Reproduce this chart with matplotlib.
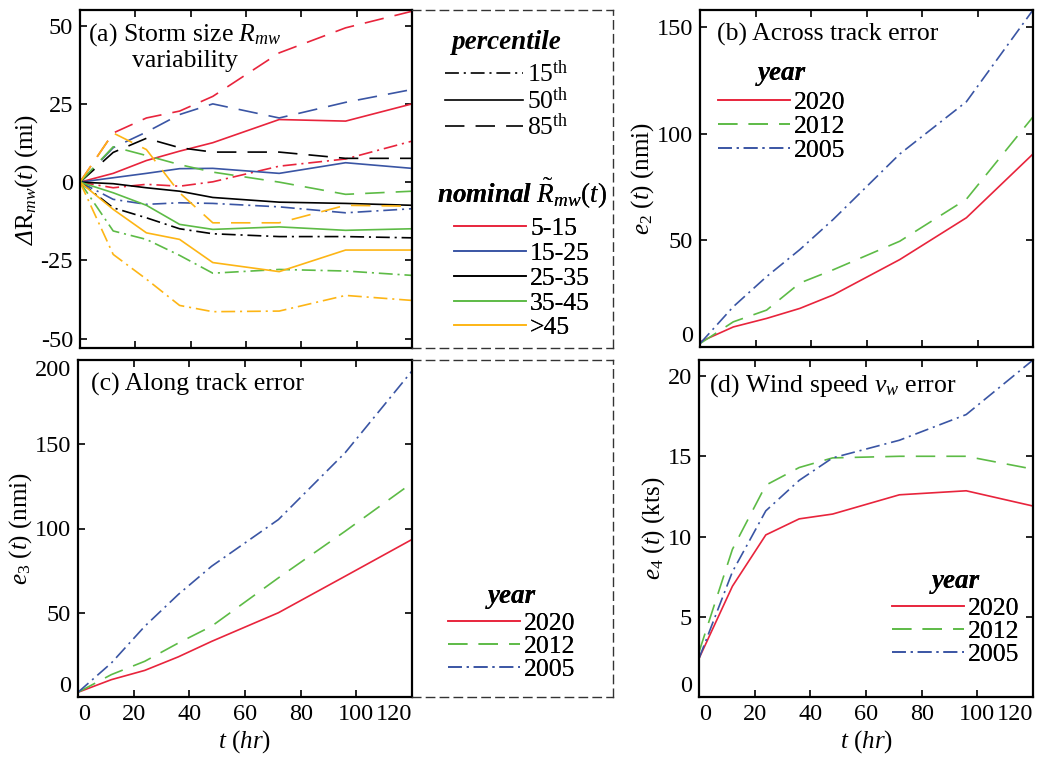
import matplotlib
matplotlib.use("Agg")
import matplotlib.pyplot as plt
from matplotlib.lines import Line2D

plt.rcParams["font.family"] = ["Liberation Serif", "DejaVu Serif"]
plt.rcParams["mathtext.fontset"] = "custom"
plt.rcParams["mathtext.rm"] = "Liberation Serif"
plt.rcParams["mathtext.it"] = "Liberation Serif:italic"
plt.rcParams["mathtext.sf"] = "Liberation Serif:italic"
plt.rcParams["mathtext.bf"] = "Liberation Serif:bold:italic"
plt.rcParams["axes.unicode_minus"] = False
plt.rcParams["lines.scale_dashes"] = False

# ---- data ----
t = [0, 12, 24, 36, 48, 72, 96, 120]

bins = ["5-15", "15-25", "25-35", "35-45", ">45"]
bin_colors = ["#E8243C", "#3A55A4", "#000000", "#5DBB46", "#FDB515"]

p15 = [
    [0, -1.8, -0.7, -1.3, 0.1, 5.1, 7.4, 13.1],
    [0, -5.5, -7.1, -6.6, -6.8, -7.9, -9.8, -8.5],
    [0, -8.2, -11.4, -14.9, -16.5, -17.4, -17.4, -17.8],
    [0, -15.6, -18.3, -23.4, -29.1, -27.9, -28.4, -29.8],
    [0, -23.1, -31.0, -39.4, -41.4, -41.2, -36.2, -37.8],
]
p50 = [
    [0, 2.8, 6.9, 9.9, 12.6, 20.0, 19.5, 25.0],
    [0, 1.4, 2.8, 4.3, 4.4, 2.8, 6.2, 4.4],
    [0, -0.5, -1.8, -2.9, -4.9, -6.4, -6.8, -7.4],
    [0, -3.4, -7.4, -13.5, -15.1, -14.3, -15.4, -14.9],
    [0, -8.7, -16.2, -18.3, -25.7, -28.6, -21.7, -21.7],
]
p85 = [
    [0, 15.7, 20.5, 22.7, 27.4, 41.3, 49.3, 54.6],
    [0, 11.0, 16.0, 21.6, 25.0, 20.5, 25.5, 29.6],
    [0, 9.5, 14.0, 11.0, 9.6, 9.6, 7.6, 7.6],
    [0, 11.3, 8.5, 5.6, 3.2, 0.0, -3.9, -2.9],
    [0, 15.7, 10.4, -3.4, -13.0, -13.0, -7.4, -7.7],
]

years = ["2020", "2012", "2005"]
year_colors = ["#E8243C", "#5DBB46", "#3A55A4"]

e2 = [
    [2.4, 9.4, 13.4, 18.1, 24.4, 41.0, 60.6, 90.5],
    [1.6, 11.8, 17.3, 30.0, 36.2, 49.6, 69.3, 107.9],
    [1.6, 18.9, 33.0, 45.7, 59.8, 90.5, 115.0, 158.0],
]
e3 = [
    [2.8, 10.3, 15.8, 23.8, 33.0, 50.0, 71.7, 93.5],
    [2.8, 13.3, 21.2, 32.0, 42.0, 70.7, 98.4, 127.0],
    [2.8, 20.2, 42.0, 60.8, 77.6, 105.3, 145.0, 193.5],
]
e4 = [
    [2.4, 6.9, 10.1, 11.1, 11.4, 12.6, 12.85, 11.9],
    [2.8, 9.2, 13.2, 14.3, 14.9, 15.0, 15.0, 14.2],
    [2.4, 7.8, 11.6, 13.5, 14.9, 16.0, 17.6, 21.0],
]

# ---- styles ----
SOLID = "-"
DASHED = (0, (14, 8))
DASHDOT = (0, (10, 3.5, 1.5, 3.5))
year_styles = [SOLID, DASHED, DASHDOT]
LW = 1.2
TICK_FS = 17.5
LABEL_FS = 18
TITLE_FS = 18.5
LEG_FS = 18.5
LEG_TITLE_FS = 19.5

W, H = 1039, 757
fig = plt.figure(figsize=(W / 100, H / 100), dpi=100)


def rect(x0, y0, x1, y1):
    """pixel box (top-left origin) -> figure fraction"""
    return [x0 / W, 1 - y1 / H, (x1 - x0) / W, (y1 - y0) / H]


def fig_xy(x, y):
    return (x / W, 1 - y / H)


def style(ax):
    for s in ax.spines.values():
        s.set_linewidth(1.6)
    ax.tick_params(direction="in", top=True, right=True, length=5,
                   width=1.2, labelsize=TICK_FS, pad=5)
    ax.set_xlim(0, 120)
    ax.set_xticks(range(0, 121, 20))


def dashed_box(ax):
    ax.set_xticks([])
    ax.set_yticks([])
    ax.patch.set_alpha(0)
    for s in ax.spines.values():
        s.set_linestyle((0, (6, 4)))
        s.set_linewidth(1.0)
        s.set_color("#333333")
    ax.spines["left"].set_visible(False)


def make_legend(ax, handles, labels, title, x, y, hlen=2.8, lspace=0.0, title_gap=2.5):
    leg = ax.legend(handles, labels, title=title, loc="upper left",
                    bbox_to_anchor=fig_xy(x, y), bbox_transform=fig.transFigure,
                    frameon=False, fontsize=LEG_FS, title_fontsize=LEG_TITLE_FS,
                    handlelength=hlen, handletextpad=0.15, labelspacing=lspace,
                    borderpad=0, borderaxespad=0)
    leg.get_title().set_fontweight("bold")
    leg.get_title().set_fontstyle("italic")
    leg._legend_box.sep = title_gap  # extra room under the title
    ax.add_artist(leg)
    return leg


def year_legend(ax, x, y, lspace=0.0, title_gap=2.5):
    handles = [Line2D([], [], color=c, ls=s, lw=LW)
               for c, s in zip(year_colors, year_styles)]
    return make_legend(ax, handles, years, "year", x, y, lspace=lspace, title_gap=title_gap)


ax_a = fig.add_axes(rect(80, 10, 412, 348))
box_a = fig.add_axes(rect(412, 10, 613, 348))
ax_b = fig.add_axes(rect(700, 10, 1033, 347))
ax_c = fig.add_axes(rect(78, 360, 412, 697))
box_c = fig.add_axes(rect(412, 360, 613, 697))
ax_d = fig.add_axes(rect(699, 360, 1033, 697))

# (a) storm size variability
for i in range(len(bins)):
    ax_a.plot(t, p85[i], color=bin_colors[i], ls=DASHED, lw=LW)
    ax_a.plot(t, p50[i], color=bin_colors[i], ls=SOLID, lw=LW)
    ax_a.plot(t, p15[i], color=bin_colors[i], ls=DASHDOT, lw=LW)
style(ax_a)
ax_a.set_ylim(-53, 55)
ax_a.set_yticks([-50, -25, 0, 25, 50])
ax_a.tick_params(labelbottom=False)
ax_a.set_ylabel(r"$\mathsf{\Delta}\mathrm{R}_{mw}(t)$ (mi)", fontsize=LABEL_FS, labelpad=0.5)
ax_a.text(0.315, 0.968, "(a) Storm size $R_{mw}$\nvariability", transform=ax_a.transAxes,
          ha="center", va="top", fontsize=TITLE_FS, multialignment="center",
          linespacing=1.12)

dashed_box(box_a)
pct_handles = [Line2D([], [], color="k", ls=s, lw=LW) for s in [DASHDOT, SOLID, DASHED]]
pct_labels = [r"15$^{\mathrm{th}}$", r"50$^{\mathrm{th}}$", r"85$^{\mathrm{th}}$"]
make_legend(box_a, pct_handles, pct_labels, "percentile", 445, 30, hlen=3.05, title_gap=4)
bin_handles = [Line2D([], [], color=c, ls=SOLID, lw=LW) for c in bin_colors]
make_legend(box_a, bin_handles, bins, r"$\mathbf{nominal}\ \tilde{R}_{mw}(t)$",
            437, 177, lspace=0.07, title_gap=4.5)

# (b) across track error
for i in range(len(years)):
    ax_b.plot(t, e2[i], color=year_colors[i], ls=year_styles[i], lw=LW)
style(ax_b)
ax_b.set_ylim(0, 158)
ax_b.set_yticks([0, 50, 100, 150])
ax_b.tick_params(labelbottom=False)
ax_b.set_ylabel(r"$e_2$ ($t$) (nmi)", fontsize=LABEL_FS, labelpad=0.5)
ax_b.text(0.05, 0.961, "(b) Across track error", transform=ax_b.transAxes,
          ha="left", va="top", fontsize=TITLE_FS)
year_legend(ax_b, 718, 61, lspace=0.04, title_gap=3.5)

# (c) along track error
for i in range(len(years)):
    ax_c.plot(t, e3[i], color=year_colors[i], ls=year_styles[i], lw=LW)
style(ax_c)
ax_c.set_ylim(0, 200)
ax_c.set_yticks([0, 50, 100, 150, 200])
ax_c.set_ylabel(r"$e_3$ ($t$) (nmi)", fontsize=LABEL_FS, labelpad=0.5)
ax_c.set_xlabel(r"$t$ ($hr$)", fontsize=LABEL_FS, labelpad=2)
ax_c.text(0.04, 0.961, "(c) Along track error", transform=ax_c.transAxes,
          ha="left", va="top", fontsize=TITLE_FS)
dashed_box(box_c)
year_legend(box_c, 448, 584)

# (d) wind speed error
for i in range(len(years)):
    ax_d.plot(t, e4[i], color=year_colors[i], ls=year_styles[i], lw=LW)
style(ax_d)
ax_d.set_ylim(0, 21)
ax_d.set_yticks([0, 5, 10, 15, 20])
ax_d.set_ylabel(r"$e_4$ ($t$) (kts)", fontsize=LABEL_FS, labelpad=0.5)
ax_d.set_xlabel(r"$t$ ($hr$)", fontsize=LABEL_FS, labelpad=2)
ax_d.text(0.03, 0.964, "(d) Wind speed $v_w$ error", transform=ax_d.transAxes,
          ha="left", va="top", fontsize=TITLE_FS)
year_legend(ax_d, 892, 569)

# end tick labels sit inside the axis range
for ax in (ax_c, ax_d):
    xl = ax.get_xticklabels()
    xl[0].set_ha("left")
    xl[-1].set_ha("right")
for ax in (ax_b, ax_c, ax_d):
    ax.get_yticklabels()[0].set_va("bottom")
ax_c.get_yticklabels()[-1].set_va("top")

fig.savefig("out.png", dpi=100)
